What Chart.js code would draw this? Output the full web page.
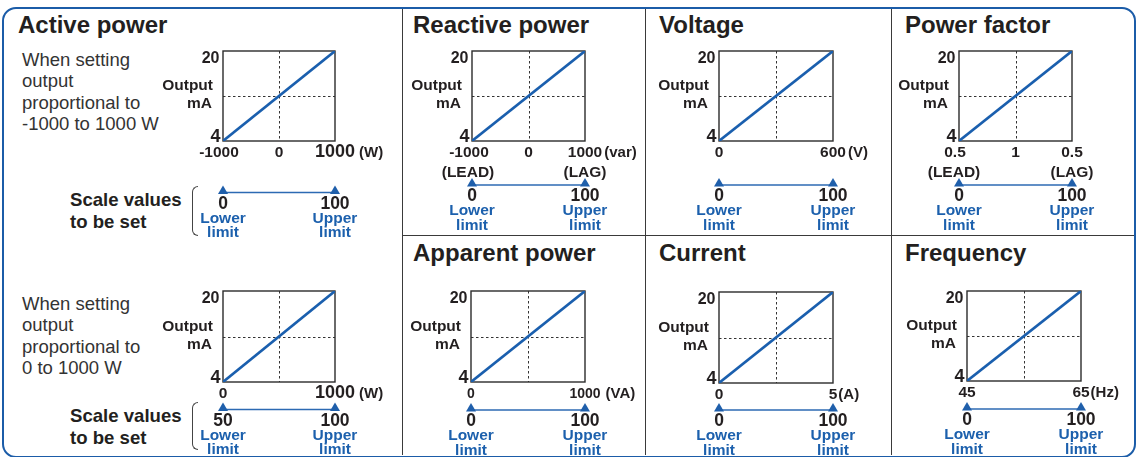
<!DOCTYPE html>
<html lang="en">
<head>
<meta charset="UTF-8">
<title>Analog output scaling</title>
<script src="https://cdn.jsdelivr.net/npm/chart.js"></script>
<style>
  html, body { margin: 0; padding: 0; background: #fff; }
  body { width: 1137px; height: 457px; position: relative; overflow: hidden;
         font-family: "Liberation Sans", Arial, Helvetica, sans-serif; color: #231f20; }
  .frame { position: absolute; left: 2px; top: 7px; width: 1134px; height: 451px; box-sizing: border-box;
           border: 2.5px solid #1b5ca8; border-radius: 14px; }
  .vline { position: absolute; top: 9px; height: 446px; width: 1.3px; background: #3a3a3a; }
  .hline { position: absolute; left: 402px; width: 732px; top: 235px; height: 1.3px; background: #3a3a3a; }
  .title { position: absolute; font-weight: bold; font-size: 24px; line-height: 24px; white-space: nowrap; }
  .desc { position: absolute; left: 22px; font-size: 18.5px; line-height: 21.3px; color: #333; white-space: nowrap; }
  .scale-note { position: absolute; left: 70px; font-weight: bold; font-size: 18.6px; line-height: 22px; white-space: nowrap; }
  .brace { position: absolute; left: 192px; width: 6px; box-sizing: border-box;
           border: 1.4px solid #444; border-right: none; border-radius: 7px 0 0 7px; }
  canvas { position: absolute; }
</style>
</head>
<body>
  <div class="frame"></div>
  <div class="vline" style="left:402px"></div>
  <div class="vline" style="left:645px"></div>
  <div class="vline" style="left:891px"></div>
  <div class="hline"></div>

  <div class="desc" style="top:49px">When setting<br>output<br>proportional to<br>-1000 to 1000 W</div>
  <div class="desc" style="top:293px">When setting<br>output<br>proportional to<br>0 to 1000 W</div>
  <div class="scale-note" style="top:188.5px">Scale values<br>to be set</div>
  <div class="scale-note" style="top:404.5px">Scale values<br>to be set</div>
  <div class="brace" style="top:186px;height:50px"></div>
  <div class="brace" style="top:402px;height:48px"></div>

<script>
// panel order: active (-1000..1000), active (0..1000), reactive, voltage,
// power factor, apparent, current, frequency
const panelTitles = ['Active power', 'Reactive power', 'Voltage', 'Power factor',
                     'Apparent power', 'Current', 'Frequency'];
const outputTicks = [4, 12, 20];           // mA
const xMins = [-1000, 0, -1000, 0, -0.5, 0, 0, 45];
const xMaxs = [1000, 1000, 1000, 600, 0.5, 1000, 5, 65];
const xMids = [0, 500, 0, 300, 0, 500, 2.5, 55];
const xTickLabels = [
  ['-1000', '0', '1000'], ['0', '', '1000'], ['-1000', '0', '1000'], ['0', '', '600'],
  ['0.5', '1', '0.5'], ['0', '', '1000'], ['0', '', '5'], ['45', '', '65']
];
const xUnits = ['(W)', '(W)', '(var)', '(V)', '', '(VA)', '(A)', '(Hz)'];
const xSubLabels = [null, null, ['(LEAD)', '(LAG)'], null, ['(LEAD)', '(LAG)'], null, null, null];
const scaleLower = [0, 50, 0, 0, 0, 0, 0, 0];
const scaleUpper = [100, 100, 100, 100, 100, 100, 100, 100];
const limitNames = [['Lower', 'limit'], ['Upper', 'limit']];

// layout: plot boxes in page pixels [left, top, right, bottom]
const boxes = [
  [223, 51, 335, 141], [223, 291, 335, 382], [472, 51, 585, 141], [719, 51, 833, 141],
  [959, 51, 1072, 141], [471, 291, 585, 382], [719, 292, 833, 383], [967, 291, 1081, 381]
];
const titlePos = [[18, 13], [413, 13], [659, 13], [905, 13], [413, 240.7], [659, 240.7], [905, 240.7]];
const barOffset = [51.5, 27.5, 44, 44, 44, 28, 27, 28];
const leftShift = [-4, 0, -3, 0, -4, 0, 0, 0];
const rightTickSize = [18, 18, 15.5, 15.5, 15.5, 14, 15.5, 15.5];
const unitGap = [4, 4, 2, 2, 0, 5, 1, 1];

const FONT = '"Liberation Sans", Arial, sans-serif';
const INK = '#231f20';
const BLUE = '#1c60ad';
const PAD = { left: 75, top: 14, right: 75, bottom: 110 };

panelTitles.forEach((t, i) => {
  const d = document.createElement('div');
  d.className = 'title';
  d.textContent = t;
  d.style.left = titlePos[i][0] + 'px';
  d.style.top = titlePos[i][1] + 'px';
  document.body.appendChild(d);
});

function panelPlugin(i) {
  return {
    id: 'panel' + i,
    beforeDatasetsDraw(chart) {
      const { ctx, chartArea: a, scales: { x, y } } = chart;
      ctx.save();
      // dashed centre lines
      ctx.strokeStyle = '#333';
      ctx.lineWidth = 1;
      ctx.setLineDash([2.5, 2.5]);
      const mx = Math.round(x.getPixelForValue(xMids[i])) + 0.5;
      const my = Math.round(y.getPixelForValue(outputTicks[1])) + 0.5;
      ctx.beginPath();
      ctx.moveTo(mx, a.top); ctx.lineTo(mx, a.bottom);
      ctx.moveTo(a.left, my); ctx.lineTo(a.right, my);
      ctx.stroke();
      // plot frame
      ctx.setLineDash([]);
      ctx.lineWidth = 1.4;
      ctx.strokeStyle = '#2b2b2b';
      ctx.strokeRect(a.left, a.top, a.width, a.height);
      ctx.restore();
    },
    afterDraw(chart) {
      const { ctx, chartArea: a, scales: { x, y } } = chart;
      ctx.save();
      ctx.fillStyle = INK;
      ctx.textBaseline = 'alphabetic';

      // y labels
      ctx.textAlign = 'right';
      ctx.font = 'bold 16px ' + FONT;
      ctx.fillText(String(outputTicks[2]), a.left - 3.5, y.getPixelForValue(outputTicks[2]) + 11.5);
      ctx.font = 'bold 15.5px ' + FONT;
      ctx.fillText('Output', a.left - 10, y.getPixelForValue(outputTicks[1]) - 6);
      ctx.fillText('mA', a.left - 11, y.getPixelForValue(outputTicks[1]) + 12);
      ctx.font = 'bold 18px ' + FONT;
      ctx.fillText(String(outputTicks[0]), a.left - 2.5, y.getPixelForValue(outputTicks[0]) + 1);

      // x labels
      ctx.textAlign = 'center';
      const xs = [x.getPixelForValue(xMins[i]), x.getPixelForValue(xMids[i]), x.getPixelForValue(xMaxs[i])];
      const base = a.bottom + 15.5;
      const labels = xTickLabels[i];
      const small = i === 5 ? 14 : 15.5;
      ctx.font = 'bold ' + small + 'px ' + FONT;
      ctx.fillText(labels[0], xs[0] + leftShift[i], base);
      ctx.fillText(labels[1], xs[1], base);
      ctx.font = 'bold ' + rightTickSize[i] + 'px ' + FONT;
      ctx.fillText(labels[2], xs[2], base);
      const w = ctx.measureText(labels[2]).width;
      if (xUnits[i]) {
        ctx.font = 'bold 15px ' + FONT;
        ctx.textAlign = 'left';
        ctx.fillText(xUnits[i], xs[2] + w / 2 + unitGap[i], base);
        ctx.textAlign = 'center';
      }
      if (xSubLabels[i]) {
        ctx.font = 'bold 15.5px ' + FONT;
        ctx.fillText(xSubLabels[i][0], xs[0] + leftShift[i] - 1, a.bottom + 35.5);
        ctx.fillText(xSubLabels[i][1], xs[2], a.bottom + 35.5);
      }

      // scale bar with lower / upper limit markers
      const bar = a.bottom + barOffset[i];
      ctx.strokeStyle = '#2c6ab3';
      ctx.lineWidth = 1.7;
      ctx.beginPath();
      ctx.moveTo(xs[0], bar); ctx.lineTo(xs[2], bar);
      ctx.stroke();
      ctx.fillStyle = '#1f5fab';
      [xs[0], xs[2]].forEach(px => {
        ctx.beginPath();
        ctx.moveTo(px, bar - 7);
        ctx.lineTo(px + 5, bar + 1.5);
        ctx.lineTo(px - 5, bar + 1.5);
        ctx.closePath();
        ctx.fill();
      });
      ctx.fillStyle = INK;
      ctx.font = 'bold 17.5px ' + FONT;
      ctx.fillText(String(scaleLower[i]), xs[0], bar + 16);
      ctx.fillText(String(scaleUpper[i]), xs[2], bar + 16);
      ctx.fillStyle = BLUE;
      ctx.font = 'bold 15.5px ' + FONT;
      [xs[0], xs[2]].forEach((px, k) => {
        ctx.fillText(limitNames[k][0], px, bar + 30);
        ctx.fillText(limitNames[k][1], px, bar + 44.5);
      });
      ctx.restore();
    }
  };
}

boxes.forEach((b, i) => {
  const cv = document.createElement('canvas');
  const w = b[2] - b[0] + PAD.left + PAD.right;
  const h = b[3] - b[1] + PAD.top + PAD.bottom;
  cv.width = w; cv.height = h;
  cv.style.left = (b[0] - PAD.left) + 'px';
  cv.style.top = (b[1] - PAD.top) + 'px';
  cv.style.width = w + 'px'; cv.style.height = h + 'px';
  document.body.appendChild(cv);

  new Chart(cv, {
    type: 'line',
    data: {
      datasets: [{
        data: [{ x: xMins[i], y: outputTicks[0] }, { x: xMaxs[i], y: outputTicks[2] }],
        borderColor: '#1a5fae',
        borderWidth: 2.6,
        pointRadius: 0,
        tension: 0
      }]
    },
    options: {
      responsive: false,
      animation: false,
      devicePixelRatio: 1,
      layout: { padding: PAD },
      plugins: { legend: { display: false }, tooltip: { enabled: false } },
      scales: {
        x: { type: 'linear', min: xMins[i], max: xMaxs[i], display: false },
        y: { type: 'linear', min: outputTicks[0], max: outputTicks[2], display: false }
      }
    },
    plugins: [panelPlugin(i)]
  });
});
</script>
</body>
</html>
